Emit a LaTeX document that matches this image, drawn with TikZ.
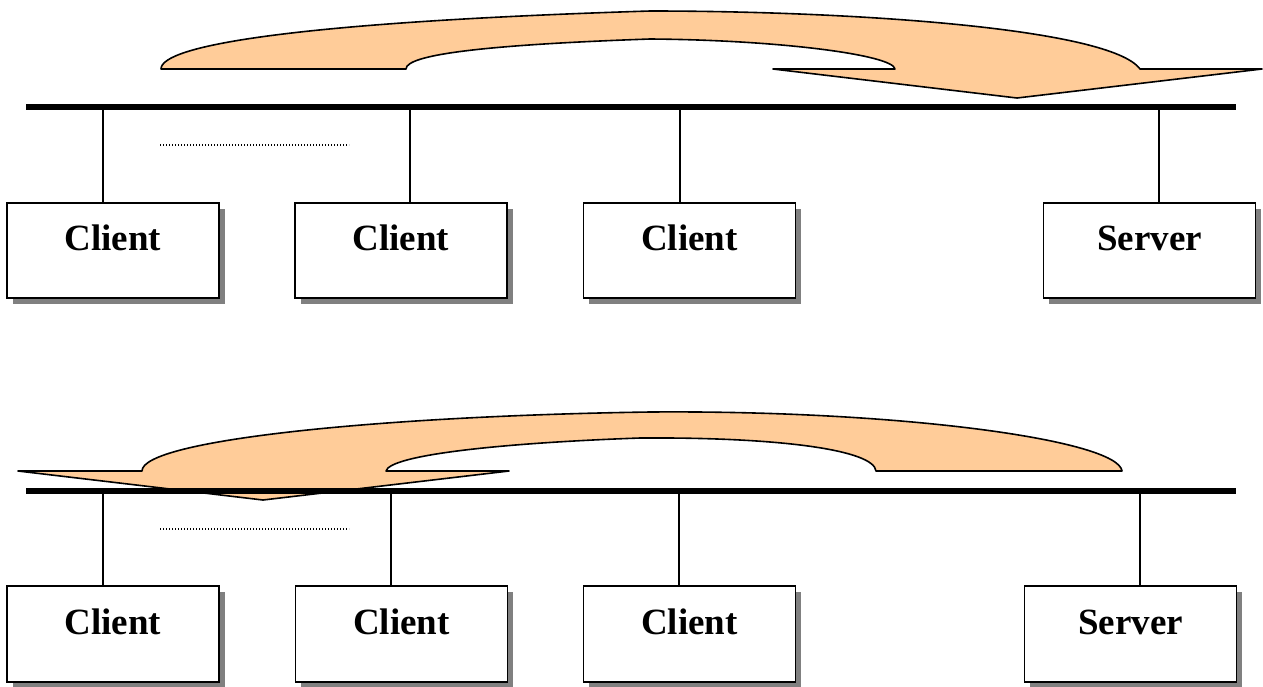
\documentclass[tikz,border=0pt]{standalone}
\usepackage{fontspec}
\setmainfont{Liberation Serif}
\usetikzlibrary{shadows}
\definecolor{flowfill}{HTML}{FFCC99}
\definecolor{shadegray}{HTML}{808080}
\tikzset{
  hostbox/.style={draw, line width=1.9pt, fill=white, inner sep=0pt,
    minimum width=212pt, minimum height=95pt,
    font=\fontsize{37}{40}\selectfont\bfseries, text height=25pt, text depth=25pt,
    drop shadow={shadow xshift=5.5pt, shadow yshift=-5.5pt, fill=shadegray, opacity=1}},
  busline/.style={line width=5.5pt},
  dropline/.style={line width=1.5pt},
  dotline/.style={line width=1.1pt, dash pattern=on 1pt off 2pt},
  flow/.style={draw, line width=1.6pt, fill=flowfill, line join=round}
}
\begin{document}
\begin{tikzpicture}[x=1pt,y=-1pt]
\useasboundingbox (0,0) rectangle (1263,686);
% Upper arrow (clients to server)
\path[flow] (161,69) .. controls (161,45) and (300,22) .. (650,11)
  .. controls (850,11) and (1110,28) .. (1140,69)
  -- (1262,69) -- (1017,98) -- (773,69) -- (895,69)
  .. controls (893,55) and (780,40) .. (650,39)
  .. controls (480,45) and (406,55) .. (406,69) -- cycle;
% Upper bus
\coordinate (busA1) at (26,107);
\coordinate (busA2) at (1236,107);
\draw[busline] (busA1) -- (busA2);
\draw[dotline] (160,145) -- (349,145);
% Upper hosts
\node[hostbox] (ca1) at (113,250.5) {Client};
\node[hostbox] (ca2) at (401,250.5) {Client};
\node[hostbox] (ca3) at (689.5,250.5) {Client};
\node[hostbox] (sa) at (1149.5,250.5) {Server};
% Upper taps on the bus
\coordinate (ta1) at (103,107);
\coordinate (ta2) at (410,107);
\coordinate (ta3) at (680,107);
\coordinate (ta4) at (1159,107);
\draw[dropline] (ta1) -- (ta1 |- ca1.north);
\draw[dropline] (ta2) -- (ta2 |- ca2.north);
\draw[dropline] (ta3) -- (ta3 |- ca3.north);
\draw[dropline] (ta4) -- (ta4 |- sa.north);
% Lower arrow (server to clients)
\path[flow] (18,471) -- (142,471) .. controls (142,440) and (380,416) .. (650,412)
  .. controls (900,410) and (1118,440) .. (1122,471)
  -- (876,471) .. controls (874,450) and (780,437) .. (640,438)
  .. controls (500,443) and (390,455) .. (386,471)
  -- (509,471) -- (263,500) -- cycle;
% Lower bus
\coordinate (busB1) at (26,491);
\coordinate (busB2) at (1236,491);
\draw[busline] (busB1) -- (busB2);
\draw[dotline] (160,529) -- (349,529);
% Lower hosts
\node[hostbox, minimum height=96pt] (cb1) at (113,634) {Client};
\node[hostbox, minimum height=96pt] (cb2) at (401.5,634) {Client};
\node[hostbox, minimum height=96pt] (cb3) at (689.5,634) {Client};
\node[hostbox, minimum height=96pt] (sb) at (1130.5,634) {Server};
% Lower taps on the bus
\coordinate (tb1) at (103,491);
\coordinate (tb2) at (391,491);
\coordinate (tb3) at (679,491);
\coordinate (tb4) at (1140,491);
\draw[dropline] (tb1) -- (tb1 |- cb1.north);
\draw[dropline] (tb2) -- (tb2 |- cb2.north);
\draw[dropline] (tb3) -- (tb3 |- cb3.north);
\draw[dropline] (tb4) -- (tb4 |- sb.north);
\end{tikzpicture}
\end{document}
